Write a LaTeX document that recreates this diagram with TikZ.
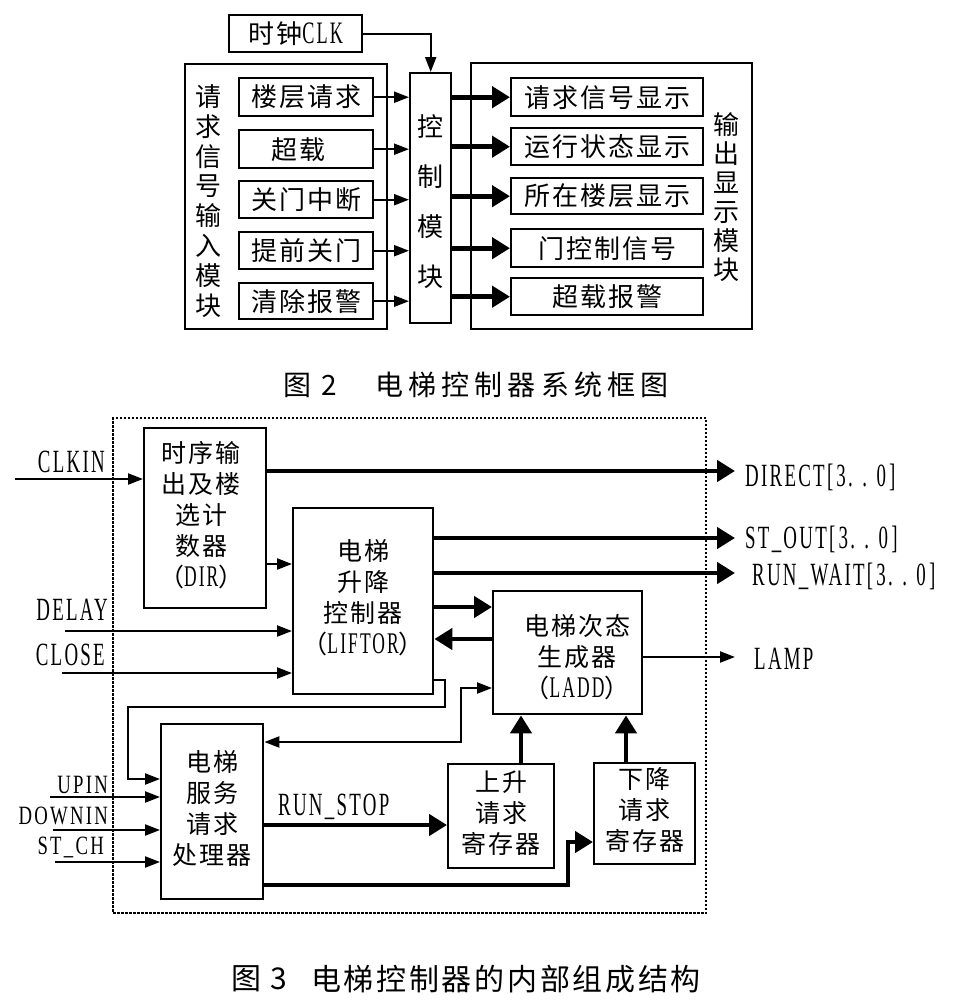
\documentclass[tikz,border=0pt]{standalone}
\usepackage{graphicx}
\usepackage{fontspec}
\setmainfont{Liberation Serif}
\newfontfamily\cjk{Noto Sans CJK SC}
\newfontfamily\cjkw[LetterSpace=8]{Noto Sans CJK SC}
\newfontfamily\cjkcapA[LetterSpace=18]{Noto Sans CJK SC}
\newfontfamily\cjkcapB[LetterSpace=9]{Noto Sans CJK SC}
\newfontfamily\latf[LetterSpace=12]{Liberation Serif}
\newcommand\lat[1]{\scalebox{0.7}[1.2]{\latf #1}}
\newcommand\latS[1]{\scalebox{0.78}[1.1]{\latf #1}}
\newcommand\rng{[\,3.\enspace.\enspace0\,]}
\usetikzlibrary{arrows.meta}
\tikzset{
  box/.style={draw, line width=2.4pt, inner sep=0pt, anchor=north west, align=center,
              font=\cjkw\fontsize{26}{31}\selectfont},
  bbox/.style={box, font=\cjkw\fontsize{25}{31}\selectfont},
  vtext/.style={inner sep=0pt, align=center},
  lab/.style={inner sep=0pt, font=\fontsize{27}{27}\selectfont},
  labS/.style={inner sep=0pt, font=\fontsize{24}{24}\selectfont},
  thinA/.style={line width=2.2pt, -{Triangle[length=15pt,width=11pt]}},
  thickA/.style={line width=4.6pt, -{Triangle[length=18pt,width=21pt]}},
  dashbox/.style={draw, line width=2pt, dash pattern=on 2.5pt off 1.5pt, inner sep=0pt, anchor=north west},
}
\begin{document}
\begin{tikzpicture}[x=1pt,y=-1pt]
\useasboundingbox (0,0) rectangle (960,1002);

% ---------------- Figure 2 ----------------
\node[box, minimum width=133pt, minimum height=37pt] (clk) at (228,14) {时钟\lat{CLK}};
\node[box, minimum width=202pt, minimum height=265pt] (inmod) at (184,63) {};
\node[box, minimum width=281pt, minimum height=266pt] (outmod) at (470,62) {};
\node[box, minimum width=41pt, minimum height=250pt] (ctrl) at (409,72) {};
\node[vtext, font=\cjk\fontsize{26}{50}\selectfont] (ctrlT) at (430,202) {控\\制\\模\\块};
\node[vtext, font=\cjk\fontsize{26}{29.8}\selectfont] (inT) at (208,201) {请\\求\\信\\号\\输\\入\\模\\块};
\node[vtext, font=\cjk\fontsize{26}{29}\selectfont] (outT) at (726,197) {输\\出\\显\\示\\模\\块};

\node[box, minimum width=134pt, minimum height=38pt] (in1) at (238,77) {楼层请求};
\node[box, minimum width=134pt, minimum height=38pt] (in2) at (238,129) {\hspace*{-16pt}超载};
\node[box, minimum width=134pt, minimum height=37pt] (in3) at (238,180) {关门中断};
\node[box, minimum width=134pt, minimum height=37pt] (in4) at (238,231) {提前关门};
\node[box, minimum width=134pt, minimum height=36pt] (in5) at (238,282) {清除报警};

\node[box, minimum width=192pt, minimum height=38pt] (out1) at (510,77) {请求信号显示};
\node[box, minimum width=192pt, minimum height=37pt] (out2) at (510,127) {运行状态显示};
\node[box, minimum width=192pt, minimum height=36pt] (out3) at (510,177) {所在楼层显示};
\node[box, minimum width=192pt, minimum height=38pt] (out4) at (510,228) {门控制信号};
\node[box, minimum width=192pt, minimum height=37pt] (out5) at (510,277) {超载报警};

\draw[thinA] (clk.east) -| (ctrl.north);
\foreach \i in {1,...,5}{
  \draw[thinA] (in\i.east) -- (in\i.east -| ctrl.west);
  \draw[thickA] (ctrl.east |- out\i.west) -- (out\i.west);
}

\node[inner sep=0pt, font=\cjk\fontsize{28}{28}\selectfont] (cap1a) at (310,385) {图\hspace{10pt}2};
\node[inner sep=0pt, font=\cjkcapA\fontsize{28}{28}\selectfont] (cap1b) at (522,385) {电梯控制器系统框图};

% ---------------- Figure 3 ----------------
\node[dashbox, minimum width=593pt, minimum height=495pt] (frame) at (112,417) {};

\node[bbox, minimum width=122pt, minimum height=180pt] (dir) at (143,427)
  {\hspace*{-8pt}\begin{tabular}{@{}c@{}}时序输\\出及楼\\选计\\数器\\（\lat{DIR}）\end{tabular}};
\node[bbox, minimum width=140pt, minimum height=186pt] (liftor) at (292,507)
  {\begin{tabular}{@{}c@{}}电梯\\升降\\控制器\\（\lat{LIFTOR}）\end{tabular}};
\node[bbox, minimum width=149pt, minimum height=123pt] (ladd) at (492,590) {};
\node[vtext, font=\cjkw\fontsize{25}{31}\selectfont] (laddT) at (577,657)
  {电梯次态\\生成器\\（\lat{LADD}）};
\node[bbox, minimum width=102pt, minimum height=175pt] (serv) at (160,723)
  {\begin{tabular}{@{}c@{}}电梯\\服务\\请求\\处理器\end{tabular}};
\node[bbox, minimum width=106pt, minimum height=104pt] (up) at (447,763)
  {\begin{tabular}{@{}c@{}}上升\\请求\\寄存器\end{tabular}};
\node[bbox, minimum width=101pt, minimum height=101pt] (down) at (593,762)
  {\begin{tabular}{@{}c@{}}下降\\请求\\寄存器\end{tabular}};

% free ends
\coordinate (clkinS) at (15,479);
\coordinate (delayS) at (65,631);
\coordinate (closeS) at (62,673);
\coordinate (upinS) at (50,797);
\coordinate (downinS) at (53,830);
\coordinate (stchS) at (55,862);
\coordinate (directE) at (735,471);
\coordinate (stoutE) at (735,538);
\coordinate (runwaitE) at (735,573);
\coordinate (lampE) at (735,657);

% labels
\node[lab, anchor=east] (lclkin) at (105,462) {\lat{CLKIN}};
\node[lab, anchor=east] (ldelay) at (108,610) {\lat{DELAY}};
\node[lab, anchor=east] (lclose) at (105,655) {\lat{CLOSE}};
\node[labS, anchor=east] (lupin) at (108,785) {\latS{UPIN}};
\node[labS, anchor=east] (ldownin) at (108,816) {\latS{DOWNIN}};
\node[labS, anchor=east] (lstch) at (104,847) {\latS{ST\_CH}};
\node[lab, anchor=west] (ldirect) at (745,477) {\lat{DIRECT\rng}};
\node[lab, anchor=west] (lstout) at (745,539) {\lat{ST\_OUT\rng}};
\node[lab, anchor=west] (lrunwait) at (752,576) {\lat{RUN\_WAIT\rng}};
\node[lab, anchor=west] (llamp) at (754,659) {\lat{LAMP}};
\node[lab, anchor=west] (lrunstop) at (278,807) {\lat{RUN\_STOP}};

% connectors
\draw[thinA] (clkinS) -- (clkinS -| dir.west);
\draw[thickA] (dir.east |- directE) -- (directE);
\draw[thinA] (dir.east |- 0,564) -- (liftor.west |- 0,564);
\draw[thinA] (delayS) -- (delayS -| liftor.west);
\draw[thinA] (closeS) -- (closeS -| liftor.west);
\draw[thickA] (liftor.east |- stoutE) -- (stoutE);
\draw[thickA] (liftor.east |- runwaitE) -- (runwaitE);
\draw[thickA] (liftor.east |- 0,607) -- (ladd.west |- 0,607);
\draw[thickA] (ladd.west |- 0,639) -- (liftor.east |- 0,639);
\draw[thinA] (ladd.east |- lampE) -- (lampE);
\draw[thinA] (liftor.east |- 0,680) -- (445,680) -- (445,707) -- (128,707) -- (128,779) -- (serv.west |- 0,779);
\draw[thinA] (upinS) -- (upinS -| serv.west);
\draw[thinA] (downinS) -- (downinS -| serv.west);
\draw[thinA] (stchS) -- (stchS -| serv.west);
\draw[line width=2.2pt, {Triangle[length=15pt,width=11pt]}-{Triangle[length=15pt,width=11pt]}]
  (serv.east |- 0,742) -- (461,742) -- (461,688) -- (ladd.west |- 0,688);
\draw[thickA] (serv.east |- 0,825) -- (up.west |- 0,825);
\draw[thickA] (serv.east |- 0,885) -- (568,885) -- (568,842) -- (down.west |- 0,842);
\draw[thickA] (up.north -| 521,0) -- (ladd.south -| 521,0);
\draw[thickA] (down.north -| 626,0) -- (ladd.south -| 626,0);

\node[inner sep=0pt, font=\cjk\fontsize{30}{30}\selectfont] (cap2a) at (259,979) {图\hspace{9pt}3};
\node[inner sep=0pt, font=\cjkcapB\fontsize{30}{30}\selectfont] (cap2b) at (506,979) {电梯控制器的内部组成结构};
\end{tikzpicture}
\end{document}
